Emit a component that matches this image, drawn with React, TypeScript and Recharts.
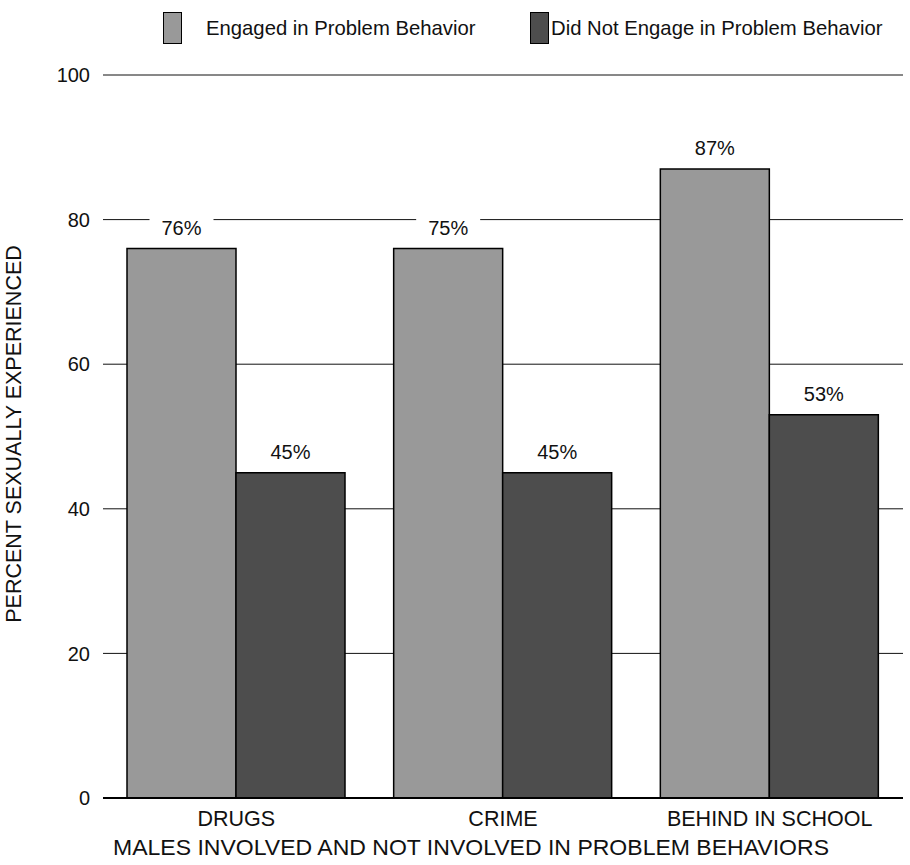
import React from 'react';
import { BarChart, Bar, XAxis, YAxis, CartesianGrid, LabelList } from 'recharts';

const categories = ['DRUGS', 'CRIME', 'BEHIND IN SCHOOL'];
const engaged = [76, 76, 87];
const notEngaged = [45, 45, 53];
const engagedLabels = ['76%', '75%', '87%'];
const notEngagedLabels = ['45%', '45%', '53%'];
const yTicks = [0, 20, 40, 60, 80, 100];

const FONT = '"Liberation Sans", Arial, Helvetica, sans-serif';
const LIGHT = '#999999';
const DARK = '#4d4d4d';

const data = categories.map((name, i) => ({
    name,
    engaged: engaged[i],
    notEngaged: notEngaged[i],
    engagedLabel: engagedLabels[i],
    notEngagedLabel: notEngagedLabels[i],
}));

const BarLabel: React.FC<any> = ({ x, y, width, value }) => {
    const cx = x + width / 2;
    const cy = y - 21;
    return (
        <g>
            <rect x={cx - 32} y={cy - 12} width={64} height={24} fill="#fff" />
            <text x={cx} y={cy} dy="0.35em" textAnchor="middle" fontSize={20} fontFamily={FONT} fill="#111">
                {value}
            </text>
        </g>
    );
};

const LegendItem: React.FC<{ color: string; text: string; left: number; textLeft: number }> = ({ color, text, left, textLeft }) => (
    <>
        <div style={{ position: 'absolute', left, top: 12, width: 19, height: 32, background: color, border: '1.5px solid #000', boxSizing: 'border-box' }} />
        <div style={{ position: 'absolute', left: textLeft, top: 16, fontSize: 20.3, fontFamily: FONT, color: '#111', whiteSpace: 'nowrap', lineHeight: '24px' }}>
            {text}
        </div>
    </>
);

export default function App() {
    return (
        <div style={{ position: 'absolute', left: 0, top: 0, width: 910, height: 865, background: '#fff' }}>
            <BarChart
                width={910}
                height={865}
                data={data}
                margin={{ top: 75, right: 7, bottom: 37, left: 0 }}
                barGap={0}
                barCategoryGap={24}
            >
                <CartesianGrid vertical={false} stroke="#111" strokeWidth={1} />
                <XAxis
                    dataKey="name"
                    height={30}
                    axisLine={{ stroke: '#000', strokeWidth: 2 }}
                    tickLine={false}
                    tickSize={0}
                    tickMargin={13}
                    tick={{ fontSize: 21.5, fill: '#111', fontFamily: FONT }}
                />
                <YAxis
                    domain={[0, 100]}
                    ticks={yTicks}
                    width={103}
                    axisLine={false}
                    tickLine={false}
                    tickSize={0}
                    tickMargin={13}
                    tick={{ fontSize: 20, fill: '#111', fontFamily: FONT }}
                />
                <Bar dataKey="engaged" fill={LIGHT} stroke="#000" strokeWidth={1.5} isAnimationActive={false}>
                    <LabelList dataKey="engagedLabel" content={<BarLabel />} />
                </Bar>
                <Bar dataKey="notEngaged" fill={DARK} stroke="#000" strokeWidth={1.5} isAnimationActive={false}>
                    <LabelList dataKey="notEngagedLabel" content={<BarLabel />} />
                </Bar>
            </BarChart>
            <svg width={910} height={865} style={{ position: 'absolute', left: 0, top: 0, pointerEvents: 'none' }}>
                <text transform="translate(13,434) rotate(-90)" dy="0.35em" textAnchor="middle" fontSize={21.5} fontFamily={FONT} fill="#111">
                    PERCENT SEXUALLY EXPERIENCED
                </text>
                <text x={471} y={847} dy="0.35em" textAnchor="middle" fontSize={21.5} textLength={716} lengthAdjust="spacingAndGlyphs" fontFamily={FONT} fill="#111">
                    MALES INVOLVED AND NOT INVOLVED IN PROBLEM BEHAVIORS
                </text>
            </svg>
            <LegendItem color={LIGHT} text="Engaged in Problem Behavior" left={163} textLeft={206} />
            <LegendItem color={DARK} text="Did Not Engage in Problem Behavior" left={530} textLeft={551} />
        </div>
    );
}
